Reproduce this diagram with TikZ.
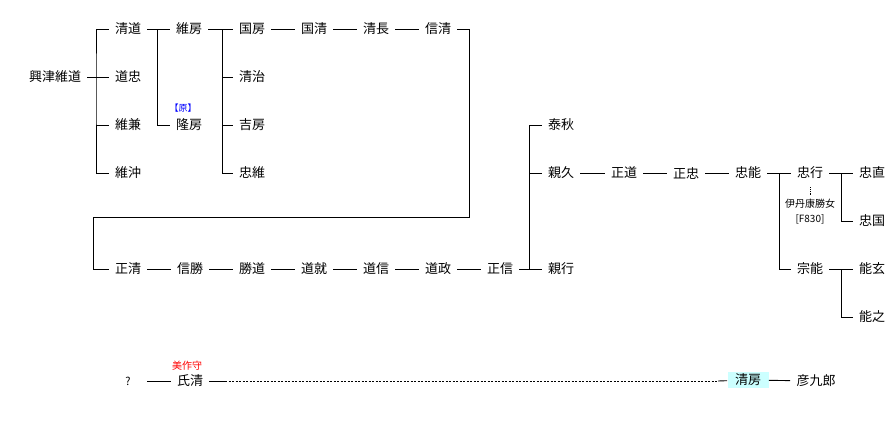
\documentclass[tikz,border=0pt]{standalone}
\usepackage{fontspec}
\setmainfont{Noto Sans CJK JP}
\usepackage{xcolor}
\definecolor{hilite}{HTML}{CCFFFF}

\begin{document}
\begin{tikzpicture}[x=1pt,y=-1pt,line width=0.9pt,
  every node/.style={font=\fontsize{13}{13}\selectfont,inner sep=6pt},
  note/.style={font=\fontsize{10}{10}\selectfont,inner sep=0pt}]
              \useasboundingbox (0,0) rectangle (896,423);
              % first generations
              \node (okitsu) at (55,77) {興津維道};
              \node (kiyomichi) at (128,29) {清道};
              \node (michitada) at (128,77) {道忠};
              \node (korekane) at (128,125) {維兼};
              \node (koreoki) at (128,173) {維沖};
              \node (korefusa) at (189,29) {維房};
              \node (takafusa) at (189,125) {隆房};
              \node[note,text=blue,font=\fontsize{9}{9}\selectfont] (gen) at (183,108) {【原】};
              \node (kunifusa) at (252,29) {国房};
              \node (kiyoharu) at (252,77) {清治};
              \node (yoshifusa) at (252,125) {吉房};
              \node (tadakore) at (252,173) {忠維};
              \node (kunikiyo) at (314,29) {国清};
              \node (kiyonaga) at (376,29) {清長};
              \node (nobukiyo) at (438,29) {信清};
              % second row
              \node (masakiyo) at (128,269) {正清};
              \node (nobukatsu) at (190,269) {信勝};
              \node (katsumichi) at (252,269) {勝道};
              \node (michinari) at (314,269) {道就};
              \node (michinobu) at (376,269) {道信};
              \node (michimasa) at (438,269) {道政};
              \node (masanobu) at (500,269) {正信};
              \node (yasuaki) at (561,125) {泰秋};
              \node (chikahisa) at (561,173) {親久};
              \node (chikayuki) at (561,269) {親行};
              \node (masamichi) at (624,173) {正道};
              \node (masatada) at (686,173) {正忠};
              \node (tadayoshi) at (748,173) {忠能};
              \node (tadayuki) at (810,173) {忠行};
              \node[note] (wife) at (810,204) {伊丹康勝女};
              \node[note] (wifeid) at (810,219) {[F830]};
              \node (muneyoshi) at (810,269) {宗能};
              \node (tadanao) at (872,173) {忠直};
              \node (tadakuni) at (872,221) {忠国};
              \node (yoshiharu) at (872,269) {能玄};
              \node (yoshiyuki) at (872,317) {能之};
              % bottom line
              \node[minimum width=38pt,inner sep=0pt,font=\fontsize{11}{11}\selectfont] (unknown) at (128,381) {?};
              \node (ujikiyo) at (190,381) {氏清};
              \node[note,text=red] (mimasaka) at (187,366) {美作守};
              \node[fill=hilite,minimum width=41pt,minimum height=16pt,inner sep=0pt] (kiyofusa) at (748,380) {清房};
              \node (hikokuro) at (816,381) {彦九郎};

              \coordinate (b1) at (96,77);
              \coordinate (b2) at (157,29);
              \coordinate (b3) at (222,29);
              \coordinate (turnA) at (469,217);
              \coordinate (turnB) at (93,217);
              \coordinate (b6) at (529,269);
              \coordinate (b7) at (779,173);
              \coordinate (b8) at (841,173);
              \coordinate (b9) at (841,269);
              \coordinate (d1) at (225,381);
              \coordinate (d2) at (718,381);

              \draw (okitsu) -- (michitada);
              \draw (kiyomichi.west) -| (b1) |- (koreoki.west);
              \draw (b1 |- korekane) -- (korekane.west);
              \draw (kiyomichi) -- (korefusa);
              \draw (b2) |- (takafusa.west);
              \draw (korefusa) -- (kunifusa);
              \draw (b3) |- (tadakore.west);
              \draw (b3 |- kiyoharu) -- (kiyoharu.west);
              \draw (b3 |- yoshifusa) -- (yoshifusa.west);
              \draw (kunifusa) -- (kunikiyo) -- (kiyonaga) -- (nobukiyo);
              \draw (nobukiyo.east) -| (turnA) -- (turnB) |- (masakiyo.west);
              \draw (masakiyo) -- (nobukatsu) -- (katsumichi) -- (michinari) -- (michinobu) -- (michimasa) -- (masanobu) -- (chikayuki);
              \draw (yasuaki.west) -| (b6);
              \draw (b6 |- chikahisa) -- (chikahisa.west);
              \draw (chikahisa) -- (masamichi) -- (masatada) -- (tadayoshi) -- (tadayuki) -- (tadanao);
              \draw (b7) |- (muneyoshi.west);
              \draw (b8) |- (tadakuni.west);
              \draw (muneyoshi) -- (yoshiharu);
              \draw (b9) |- (yoshiyuki.west);
              \draw[densely dotted,line width=0.7pt,shorten <=2pt,shorten >=4pt] (tadayuki) -- (wife);
              \draw (unknown) -- (ujikiyo);
              \draw (ujikiyo) -- (d1);
              \draw[dash pattern=on 2pt off 1.5pt,line width=0.7pt] (d1) -- (d2);
              \draw (d2) -- (kiyofusa);
              \draw (kiyofusa) -- (hikokuro);
            \end{tikzpicture}
\end{document}
